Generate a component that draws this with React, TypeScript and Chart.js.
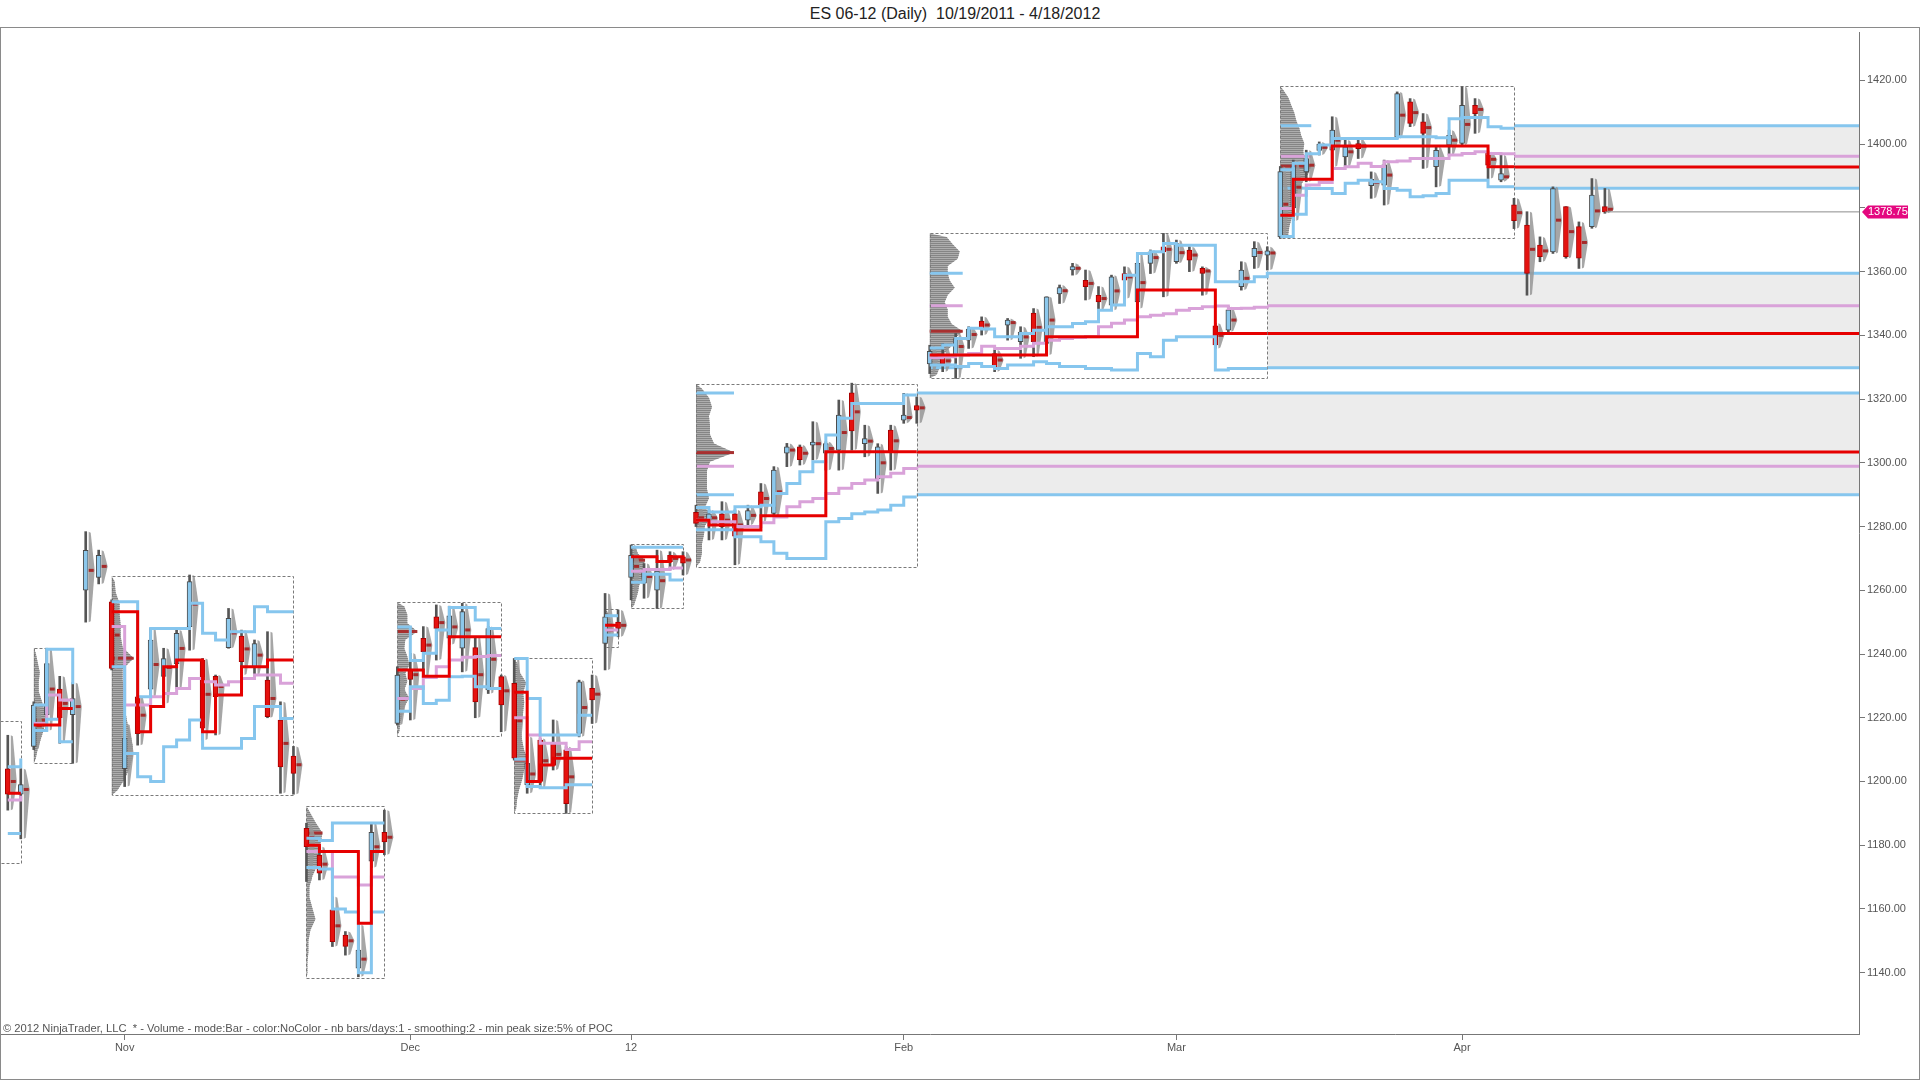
import React, { useEffect, useRef } from 'react';
import { Chart, registerables } from 'chart.js';

Chart.register(...registerables);

const TITLE = 'ES 06-12 (Daily)  10/19/2011 - 4/18/2012';
const FOOTER = '\u00a9 2012 NinjaTrader, LLC  * - Volume - mode:Bar - color:NoColor - nb bars/days:1 - smoothing:2 - min peak size:5% of POC';

// ---- daily OHLC (bar index 0 = 10/19/2011 ... 123 = 4/18/2012)
const opens = [
  1204, 1196, 1211, 1221, 1229, 1221, 1260, 1264, 1256.4, 1204,
  1226.6, 1229, 1233, 1237, 1248.6, 1238, 1233, 1242, 1245.6, 1236,
  1231.8, 1219.3, 1208, 1185.3, 1176.9, 1159.7, 1151.8, 1141.4, 1175, 1184,
  1218.2, 1235, 1244.9, 1251.7, 1245, 1241.8, 1242, 1228.7, 1232.9, 1230.8,
  1199, 1213, 1212, 1209.9, 1215.1, 1229.2, 1243.3, 1250, 1264, 1262.2,
  1260, 1271, 1270.5, 1284.5, 1281.5, 1284, 1284, 1282, 1290.9, 1284.1,
  1303, 1305, 1305.5, 1303, 1304, 1322, 1306, 1295, 1310.3, 1313.4,
  1318, 1331, 1333, 1334, 1338.5, 1344.5, 1334.3, 1343.2, 1338, 1347,
  1337.5, 1353, 1360.5, 1357.3, 1352.6, 1349.5, 1359.4, 1350.5, 1362.6, 1367.8,
  1363.1, 1366.8, 1361, 1343, 1341.6, 1355.3, 1364.7, 1365.2, 1370.9, 1380,
  1391.3, 1398, 1398.1, 1396, 1400.2, 1387, 1387.1, 1402.3, 1413.3, 1407,
  1392.9, 1399.7, 1400.2, 1412.2, 1397.1, 1388.7, 1381, 1374.6, 1368.3, 1366.2,
  1380.4, 1374.1, 1374.1, 1380.4,
];
const highs = [
  1214.5, 1204, 1225, 1241.8, 1233, 1231, 1278.4, 1272.6, 1257, 1218,
  1227, 1248, 1241.8, 1247.5, 1264.8, 1238.6, 1233.4, 1254.3, 1247.5, 1244.4,
  1247, 1225, 1211, 1186.9, 1179.5, 1163.8, 1152.9, 1155, 1187, 1191,
  1236, 1240.2, 1248.6, 1255.4, 1255, 1255.9, 1245.4, 1248.6, 1233.4, 1238.6,
  1214, 1213.5, 1219.3, 1210.9, 1231.8, 1233.4, 1259, 1253.8, 1274.2, 1268.4,
  1272.6, 1272.1, 1272.1, 1286.7, 1285.2, 1287.8, 1285.2, 1286.7, 1293.5, 1298.8,
  1306.1, 1305.6, 1312.9, 1306.6, 1319.7, 1325, 1311.8, 1306, 1311.8, 1321.8,
  1320.7, 1336.9, 1337.5, 1340.6, 1342.7, 1345.8, 1335.4, 1345.3, 1342.7, 1348.4,
  1352.1, 1355.8, 1362.6, 1360.5, 1355.3, 1358.9, 1361.5, 1365.7, 1366.8, 1372,
  1369.9, 1367.8, 1361.5, 1343.8, 1349, 1363.1, 1369.4, 1367.8, 1393, 1395,
  1398.1, 1400.7, 1408.6, 1401.3, 1401.8, 1391.3, 1395, 1416.4, 1414.3, 1409.6,
  1399.2, 1404.4, 1418, 1414.3, 1397.6, 1396.6, 1383, 1378.8, 1370.9, 1386.6,
  1380.4, 1375.6, 1389.2, 1386.1,
];
const lows = [
  1191, 1182, 1210, 1216, 1212, 1205.7, 1250, 1262, 1235, 1198.4,
  1211.4, 1226.6, 1224.5, 1229.2, 1241.2, 1213, 1214.6, 1241.8, 1233.4, 1233.4,
  1220, 1196.3, 1196, 1168.6, 1169.1, 1148.2, 1145.5, 1138.7, 1173, 1177,
  1217.7, 1219.3, 1232.4, 1238.1, 1243, 1234.4, 1220, 1227.6, 1215.6, 1206.7,
  1196.3, 1198, 1203.6, 1190, 1214, 1218.2, 1235, 1245.4, 1257, 1257.5,
  1254.3, 1266.4, 1264.8, 1280, 1275.8, 1275.8, 1268, 1280.5, 1281.5, 1283.1,
  1298.8, 1299.3, 1300.9, 1297.7, 1297.7, 1304, 1301.9, 1290.4, 1297.7, 1312.4,
  1312.4, 1328, 1328.6, 1326.5, 1335.9, 1340.1, 1328.6, 1338.5, 1332.8, 1333.3,
  1333.8, 1350, 1358.9, 1351.1, 1347.9, 1347.9, 1351.6, 1348.4, 1359.4, 1352.1,
  1362.6, 1360, 1352.6, 1335.9, 1341.1, 1354.2, 1361, 1360.5, 1370.4, 1376,
  1388.2, 1396.6, 1392.9, 1392.9, 1395.5, 1383, 1380.9, 1401.8, 1405.5, 1392.4,
  1386.6, 1396.6, 1399.7, 1403.4, 1389.2, 1388.2, 1373.5, 1352.6, 1363.1, 1365.7,
  1364.2, 1361, 1373.6, 1378.3,
];
const closes = [
  1196, 1199, 1224, 1237, 1220, 1226, 1272.5, 1271, 1235.5, 1213.5,
  1215, 1244.4, 1238.6, 1246.5, 1262.7, 1216.7, 1226.6, 1251.2, 1237.6, 1243.3,
  1220.3, 1204.6, 1202.5, 1179.5, 1171.2, 1149.7, 1148.2, 1147.1, 1184, 1181,
  1233.4, 1232, 1240.7, 1248, 1252, 1253.3, 1225, 1248, 1224, 1207.3,
  1205.7, 1200, 1205, 1193, 1231.3, 1225.6, 1251.7, 1248, 1271, 1266.4,
  1266, 1269, 1268.5, 1281, 1284, 1280, 1277, 1285, 1286.7, 1297.7,
  1305, 1301, 1306.5, 1306, 1315, 1310, 1307.6, 1305, 1303.5, 1315,
  1316.5, 1335, 1331, 1339, 1342, 1342, 1330.2, 1344.8, 1341, 1338,
  1352.1, 1355, 1361.6, 1355.3, 1350.5, 1358.4, 1357.3, 1362.6, 1366.2, 1366.2,
  1368.8, 1363.6, 1359.4, 1337, 1348, 1360.5, 1367.3, 1366.5, 1391.4, 1393,
  1395.5, 1400, 1404.4, 1399.2, 1398.6, 1389, 1393.5, 1415.9, 1406.5, 1403.4,
  1398.1, 1402.8, 1412.2, 1409.6, 1393.4, 1390.8, 1376, 1359.4, 1364.7, 1386.1,
  1364.7, 1364.2, 1384, 1378.75,
];

// ---- axis ticks
const xTickIdx = [9, 31, 48, 69, 90, 112];
const xTickLabels = ['Nov', 'Dec', '12', 'Feb', 'Mar', 'Apr'];
const yTicks = [1140, 1160, 1180, 1200, 1220, 1240, 1260, 1280, 1300, 1320, 1340, 1360, 1380, 1400, 1420];

// ---- composite profile boxes
const boxStart = [-1, 2, 8, 23, 30, 39, 46, 48, 53, 71, 98];
const boxEnd = [1, 5, 22, 29, 38, 45, 47, 52, 70, 97, 116];
const boxHigh = [1219, 1241.8, 1264.5, 1192.3, 1256.2, 1238.6, 1254, 1274.5, 1324.7, 1372, 1418.2];
const boxLow = [1174.5, 1205.7, 1195.6, 1138.2, 1214.4, 1190, 1242.3, 1254.3, 1267.4, 1326.5, 1370.4];

// composite volume profile rows (top -> bottom)
const boxProfiles = [
  [],
  [2, 4, 6, 5, 5, 8, 11, 12, 10, 7, 4, 2],
  [3, 4, 8, 8, 9, 9, 11, 22, 11, 11, 13, 14, 14, 16, 19, 21, 21, 18, 13, 6],
  [3, 9, 16, 14, 13, 11, 6, 3, 3, 6, 9, 4, 2, 2, 1, 1],
  [7, 10, 10, 20, 8, 7, 10, 12, 8, 10, 7, 12, 7, 5, 3, 2],
  [3, 6, 12, 9, 10, 9, 8, 7, 8, 10, 14, 10, 8, 5, 3, 2],
  [3, 5, 7, 6, 4, 2],
  [4, 7, 14, 12, 12, 10, 8, 7, 5, 3],
  [6, 13, 16, 13, 14, 14, 18, 38, 14, 11, 11, 11, 13, 9, 16, 9, 8, 6, 6, 4],
  [17, 23, 30, 28, 18, 18, 20, 25, 18, 15, 18, 18, 22, 33, 25, 22, 15, 12, 10, 7],
  [3, 8, 11, 14, 16, 19, 21, 24, 23, 24, 31, 28, 23, 18, 16, 14, 13, 11, 9, 8],
];

// developing value area high / low, POC and VWAP, one array per box
const vahByBox = [
  [1204.6, 1207.2],
  [1224, 1241.5, 1241.5, 1230.5],
  [1256.4, 1256.4, 1226.6, 1248, 1248, 1248, 1255.9, 1246.5, 1244.4, 1247, 1247, 1254.8, 1253.3, 1253.3, 1253.3],
  [1182.2, 1181.5, 1187, 1187, 1187, 1187, 1187],
  [1248.5, 1238, 1240.2, 1247.5, 1254.6, 1254.6, 1250.7, 1248, 1248],
  [1238.6, 1226, 1214.6, 1214.6, 1214.6, 1220.8, 1220.8],
  [1252, 1252],
  [1273.5, 1273.5, 1273.5, 1273.5, 1273.5],
  [1286, 1284.6, 1284.6, 1286.2, 1286.2, 1286.7, 1290.4, 1293.5, 1297.2, 1300.3, 1308.7, 1314, 1318.6, 1318.6, 1318.6, 1318.6, 1321.3, 1321.3],
  [1336, 1337, 1339, 1342.2, 1342, 1339.6, 1339.6, 1340.6, 1341.6, 1342.7, 1342.7, 1343.7, 1344.3, 1347.9, 1349.5, 1358.9, 1365.7, 1366.2, 1368.8, 1368.3, 1368.3, 1368.3, 1356.8, 1356.8, 1356.8, 1358.4, 1360],
  [1392, 1394, 1397, 1399.7, 1401.8, 1401.8, 1401.8, 1401.8, 1401.8, 1402.3, 1402.3, 1402.3, 1402, 1408, 1408.4, 1408.4, 1405.5, 1405, 1405],
];
const valByBox = [
  [1183.7, 1183.7],
  [1216, 1219.5, 1212.5, 1212.5],
  [1236, 1208.8, 1201.5, 1200, 1210.9, 1213, 1219.3, 1210.4, 1210.4, 1210.4, 1213.5, 1223.5, 1223.5, 1219.8, 1219.8],
  [1173, 1172.5, 1160, 1159, 1140, 1159, 1159],
  [1222, 1229.7, 1224.5, 1225.5, 1232.9, 1233, 1229.7, 1229.2, 1229.2],
  [1207, 1198.4, 1198, 1198, 1199, 1199, 1199],
  [1246, 1246],
  [1262.5, 1265, 1265, 1263.2, 1263.2],
  [1279, 1279, 1279, 1276.8, 1276.8, 1275.2, 1271.6, 1270, 1270, 1270, 1281.5, 1282.5, 1284, 1284.6, 1285.2, 1286.7, 1289.3, 1289.3],
  [1330.7, 1330.7, 1330.2, 1331.2, 1330.2, 1329.6, 1330.7, 1330.7, 1331.7, 1331.2, 1330.2, 1330.2, 1329.6, 1329.6, 1329.1, 1329.1, 1334.3, 1333.3, 1338.5, 1339.6, 1339.6, 1339.6, 1329.1, 1329.6, 1329.6, 1329.6, 1329.6],
  [1371, 1378, 1386.1, 1386.1, 1384.5, 1387.7, 1388.7, 1388.2, 1386.1, 1385.5, 1383.5, 1383.8, 1384.5, 1388.7, 1388.7, 1388.7, 1386.6, 1386.6, 1386.6],
];
const pocByBox = [
  [1196.3, 1196.3],
  [1217.7, 1217.7, 1222.9, 1222.9],
  [1253.3, 1253.3, 1215.6, 1223.5, 1236, 1238.1, 1238.1, 1215.6, 1227.1, 1227.1, 1236, 1236, 1238.1, 1238.1, 1238.1],
  [1180, 1178, 1178, 1178, 1155.5, 1178, 1178],
  [1235, 1235, 1233, 1233, 1245.4, 1245.4, 1245.4, 1245.4, 1245.4],
  [1228, 1200, 1205.2, 1207.3, 1207.3, 1207.3, 1207.3],
  [1249, 1249],
  [1270.5, 1270.5, 1269, 1270.5, 1269.5],
  [1282, 1280.5, 1280.5, 1278.9, 1278.9, 1283.4, 1283.4, 1283.4, 1283.4, 1283.4, 1303.5, 1303.5, 1303.5, 1303.5, 1303.5, 1303.5, 1303.5, 1303.5],
  [1333.8, 1333.8, 1333.8, 1333.8, 1333.8, 1333.8, 1333.8, 1333.8, 1333.8, 1339.6, 1339.6, 1339.6, 1339.6, 1339.6, 1339.6, 1339.6, 1354.2, 1354.2, 1354.2, 1354.2, 1354.2, 1354.2, 1340.6, 1340.6, 1340.6, 1340.6, 1340.6],
  [1377.7, 1389, 1389, 1389, 1399.4, 1399.4, 1399.4, 1399.4, 1399.4, 1399.4, 1399.4, 1399.4, 1399.4, 1399.4, 1399.4, 1399.4, 1392.9, 1392.9, 1392.9],
];
const vwapByBox = [
  [1194.2, 1195.5],
  [1218.2, 1227.1, 1225.6, 1225.6],
  [1248.6, 1224, 1224, 1226.6, 1227.6, 1229.2, 1232.3, 1231.3, 1230.3, 1231.3, 1232.3, 1233.4, 1233.4, 1230.8, 1230.8],
  [1178, 1178, 1170, 1170, 1167.5, 1170, 1170],
  [1226, 1229.2, 1232.6, 1236, 1238.1, 1239, 1239.2, 1239.5, 1239.5],
  [1220, 1214.6, 1212, 1212, 1210, 1212.5, 1212.5],
  [1247.5, 1247.5],
  [1266, 1266.5, 1266.5, 1267, 1267],
  [1282, 1281.5, 1281.5, 1280, 1280, 1281.2, 1283, 1286.2, 1287.8, 1288.8, 1290.4, 1292, 1293.5, 1294.6, 1295.6, 1296.7, 1298.2, 1298.5],
  [1333, 1333.3, 1333.8, 1334.3, 1336.6, 1335.9, 1335.9, 1336.6, 1337.5, 1338.5, 1339, 1339.3, 1339.6, 1342.7, 1343.8, 1344.8, 1345.8, 1346.3, 1346.8, 1347.9, 1348.4, 1349, 1349.2, 1348.4, 1348.5, 1348.8, 1349.2],
  [1379.8, 1384, 1387.2, 1388, 1392.4, 1392.9, 1394, 1393, 1394.5, 1394.7, 1395.5, 1395.5, 1395.5, 1396.6, 1397.1, 1397.6, 1397.1, 1397, 1396.5],
];

// final levels of the last three composites, extended to the right
const extBoxes = [8, 9, 10];
const extVah = [1321.9, 1359.5, 1405.8];
const extPoc = [1303.4, 1340.6, 1392.8];
const extVwap = [1298.9, 1349.3, 1396.2];
const extVal = [1290, 1329.8, 1386.2];

// ---- styling constants
const X_MIN = -0.524;
const X_MAX = 142.57;
const Y_MIN = 1120.75;
const Y_MAX = 1435.2;
const BLUE = '#86C6EE';
const RED = '#E60000';
const PINK = '#D9A2D9';
const SHADE = '#ECECEC';
const UP_FILL = '#8CC8EC';
const DOWN_FILL = '#E5120F';
const WICK = '#555555';
const FONT = '"Liberation Sans", Arial, sans-serif';
const PROFILE_SCALE = 1;
const MINI_W = 6;

function stepData(byBox: number[][]) {
  const pts: { x: number; y: number | null }[] = [];
  byBox.forEach((vals, b) => {
    const s = Math.max(0, boxStart[b]);
    vals.forEach((v, k) => pts.push({ x: s + k, y: v }));
    pts.push({ x: boxEnd[b] + 0.5, y: null });
  });
  return pts;
}

export default function App() {
  const ref = useRef<HTMLCanvasElement | null>(null);

  useEffect(() => {
    const canvas = ref.current;
    if (!canvas) return;
    const N = opens.length;
    const idx = Array.from({ length: N }, (_, i) => i);
    const isUp = (i: number) => closes[i] >= opens[i];
    const lastIdx = N - 1;
    const lastPrice = closes[lastIdx];

    const datasets: any[] = [];
    extBoxes.forEach((b, k) => {
      const seg = (v: number) => [
        { x: boxEnd[b], y: v },
        { x: X_MAX, y: v },
      ];
      const base = datasets.length;
      const common = { type: 'line', pointRadius: 0, borderWidth: 3, tension: 0 };
      datasets.push({ ...common, data: seg(extVah[k]), borderColor: BLUE, backgroundColor: SHADE, fill: base + 3, order: 35 });
      datasets.push({ ...common, data: seg(extPoc[k]), borderColor: RED, fill: false, order: 30 });
      datasets.push({ ...common, data: seg(extVwap[k]), borderColor: PINK, fill: false, order: 31 });
      datasets.push({ ...common, data: seg(extVal[k]), borderColor: BLUE, fill: false, order: 32 });
    });
    const WICK_INDEX = datasets.length;
    datasets.push({
      type: 'bar',
      data: idx.map((i) => ({ x: i, y: [lows[i], highs[i]] })),
      backgroundColor: WICK,
      barThickness: 2,
      grouped: false,
      order: 20,
    });
    datasets.push({
      type: 'bar',
      data: idx.map((i) => ({ x: i, y: [opens[i], closes[i]] })),
      backgroundColor: idx.map((i) => (isUp(i) ? UP_FILL : DOWN_FILL)),
      borderColor: idx.map((i) => (isUp(i) ? '#4A4A4A' : '#A80000')),
      borderWidth: 1,
      borderSkipped: false,
      barThickness: 5,
      grouped: false,
      order: 19,
    });
    const stepCommon = { type: 'line', stepped: true, pointRadius: 0, borderWidth: 3, fill: false, spanGaps: false };
    datasets.push({ ...stepCommon, data: stepData(vwapByBox), borderColor: PINK, order: 8 });
    datasets.push({ ...stepCommon, data: stepData(valByBox), borderColor: BLUE, order: 7 });
    datasets.push({ ...stepCommon, data: stepData(vahByBox), borderColor: BLUE, order: 6 });
    datasets.push({ ...stepCommon, data: stepData(pocByBox), borderColor: RED, order: 5 });
    datasets.push({
      type: 'line',
      data: [
        { x: lastIdx, y: lastPrice },
        { x: X_MAX, y: lastPrice },
      ],
      borderColor: '#8C8C8C',
      borderWidth: 1,
      pointRadius: 0,
      fill: false,
      order: 4,
    });

    const overlays = {
      id: 'overlays',
      beforeDatasetDraw(chart: any, args: any) {
        if (args.index !== WICK_INDEX) return;
        const { ctx, chartArea } = chart;
        const xs = chart.scales.x;
        const ys = chart.scales.y;
        ctx.save();
        ctx.beginPath();
        ctx.rect(chartArea.left, chartArea.top, chartArea.right - chartArea.left, chartArea.bottom - chartArea.top);
        ctx.clip();

        // composite profiles
        boxProfiles.forEach((prof, b) => {
          if (!prof.length) return;
          const x0 = xs.getPixelForValue(boxStart[b]);
          const step = (boxHigh[b] - boxLow[b]) / prof.length;
          const yTop = ys.getPixelForValue(boxHigh[b]);
          const yBot = ys.getPixelForValue(boxLow[b]);
          const maxV = Math.max(...prof);
          ctx.beginPath();
          ctx.moveTo(x0, yTop);
          prof.forEach((v, k) => ctx.lineTo(x0 + v * PROFILE_SCALE, ys.getPixelForValue(boxHigh[b] - (k + 0.5) * step)));
          ctx.lineTo(x0, yBot);
          ctx.closePath();
          ctx.fillStyle = '#ADADAD';
          ctx.fill();
          ctx.save();
          ctx.clip();
          ctx.strokeStyle = '#858585';
          ctx.lineWidth = 1;
          ctx.beginPath();
          for (let yy = Math.round(yTop) + 0.5; yy < yBot; yy += 2) {
            ctx.moveTo(x0, yy);
            ctx.lineTo(x0 + maxV * PROFILE_SCALE + 1, yy);
          }
          ctx.stroke();
          ctx.restore();
          const pk = prof.indexOf(maxV);
          const yp = ys.getPixelForValue(boxHigh[b] - (pk + 0.5) * step);
          ctx.fillStyle = '#A83030';
          ctx.fillRect(x0, yp - 1.5, maxV * PROFILE_SCALE, 3);
        });

        // final-level marks on the extended composites' profiles
        extBoxes.forEach((b, k) => {
          const x0 = xs.getPixelForValue(boxStart[b]);
          const w = Math.max(...boxProfiles[b]) * PROFILE_SCALE;
          const mark = (v: number, c: string) => {
            ctx.strokeStyle = c;
            ctx.lineWidth = 3;
            ctx.beginPath();
            ctx.moveTo(x0, ys.getPixelForValue(v));
            ctx.lineTo(x0 + w, ys.getPixelForValue(v));
            ctx.stroke();
          };
          mark(extVah[k], BLUE);
          mark(extVal[k], BLUE);
          mark(extVwap[k], PINK);
        });

        // per-bar mini profiles
        idx.forEach((i) => {
          const xc = xs.getPixelForValue(i) + 3;
          const yH = ys.getPixelForValue(highs[i]);
          const yL = ys.getPixelForValue(lows[i]);
          const yP = ys.getPixelForValue((opens[i] + closes[i]) / 2);
          ctx.beginPath();
          ctx.moveTo(xc, yH);
          ctx.lineTo(xc + 2, yH + 1);
          ctx.lineTo(xc + MINI_W, yP);
          ctx.lineTo(xc + 2, yL - 1);
          ctx.lineTo(xc, yL);
          ctx.closePath();
          ctx.fillStyle = 'rgba(150,150,150,0.85)';
          ctx.fill();
          ctx.fillStyle = '#A52A2A';
          ctx.fillRect(xc, yP - 1.5, MINI_W - 1, 3);
        });

        // dashed composite boxes
        ctx.setLineDash([3, 2]);
        ctx.strokeStyle = '#7A7A7A';
        ctx.lineWidth = 1;
        boxStart.forEach((s, b) => {
          const x0 = Math.round(xs.getPixelForValue(s)) + 0.5;
          const x1 = Math.round(xs.getPixelForValue(boxEnd[b])) + 0.5;
          const y0 = Math.round(ys.getPixelForValue(boxHigh[b])) + 0.5;
          const y1 = Math.round(ys.getPixelForValue(boxLow[b])) + 0.5;
          ctx.strokeRect(x0, y0, x1 - x0, y1 - y0);
        });
        ctx.setLineDash([]);
        ctx.restore();
      },
      afterDraw(chart: any) {
        const { ctx, chartArea } = chart;
        const yy = chart.scales.y.getPixelForValue(lastPrice);
        const x0 = chartArea.right + 3;
        ctx.save();
        ctx.fillStyle = '#E4087F';
        ctx.beginPath();
        ctx.moveTo(x0, yy);
        ctx.lineTo(x0 + 6, yy - 6.5);
        ctx.lineTo(x0 + 46, yy - 6.5);
        ctx.lineTo(x0 + 46, yy + 6.5);
        ctx.lineTo(x0 + 6, yy + 6.5);
        ctx.closePath();
        ctx.fill();
        ctx.fillStyle = '#FFFFFF';
        ctx.font = `11px ${FONT}`;
        ctx.textAlign = 'left';
        ctx.textBaseline = 'middle';
        ctx.fillText(lastPrice.toFixed(2), x0 + 6, yy + 0.5);
        ctx.restore();
      },
    };

    const chart = new Chart(canvas, {
      type: 'bar',
      data: { datasets },
      options: {
        animation: false,
        responsive: false,
        devicePixelRatio: 1,
        events: [],
        layout: { padding: { top: 4, left: 0, right: 0, bottom: 0 } },
        plugins: { legend: { display: false }, tooltip: { enabled: false }, title: { display: false } },
        scales: {
          x: {
            type: 'linear',
            min: X_MIN,
            max: X_MAX,
            offset: false,
            grid: { offset: false, drawOnChartArea: false, drawTicks: true, tickLength: 6, color: '#777777' },
            border: { display: true, color: '#777777' },
            ticks: {
              autoSkip: false,
              maxRotation: 0,
              color: '#555555',
              padding: 1,
              font: { size: 11, family: FONT },
              callback: (v: any) => {
                const k = xTickIdx.indexOf(Number(v));
                return k >= 0 ? xTickLabels[k] : '';
              },
            },
            afterBuildTicks: (axis: any) => {
              axis.ticks = xTickIdx.map((v) => ({ value: v }));
            },
            afterFit: (axis: any) => {
              axis.height = 44;
              axis.paddingLeft = 0;
              axis.paddingRight = 0;
            },
          },
          y: {
            type: 'linear',
            position: 'right',
            min: Y_MIN,
            max: Y_MAX,
            grid: { offset: false, drawOnChartArea: false, drawTicks: true, tickLength: 6, color: '#777777' },
            border: { display: true, color: '#777777' },
            ticks: {
              color: '#555555',
              padding: 2,
              font: { size: 11, family: FONT },
              // the last-price marker takes the place of a colliding tick label
              callback: (v: any) => (Math.abs(Number(v) - lastPrice) < 4 ? '' : Number(v).toFixed(2)),
            },
            afterBuildTicks: (axis: any) => {
              axis.ticks = yTicks.map((v) => ({ value: v }));
            },
            afterFit: (axis: any) => {
              axis.width = 60;
              axis.paddingTop = 0;
              axis.paddingBottom = 0;
            },
          },
        },
      } as any,
      plugins: [overlays],
    } as any);

    return () => chart.destroy();
  }, []);

  return (
    <div style={{ position: 'fixed', left: 0, top: 0, width: 1920, height: 1080, background: '#FFFFFF', overflow: 'hidden' }}>
      <div
        style={{
          position: 'absolute',
          left: 0,
          top: 0,
          width: 1910,
          height: 27,
          lineHeight: '27px',
          textAlign: 'center',
          fontFamily: FONT,
          fontSize: 16,
          color: '#222222',
          whiteSpace: 'pre',
        }}
      >
        {TITLE}
      </div>
      <div
        style={{
          position: 'absolute',
          left: 0,
          top: 27,
          width: 1920,
          height: 1053,
          boxSizing: 'border-box',
          border: '1px solid #8A8A8A',
        }}
      >
        <canvas ref={ref} width={1918} height={1050} style={{ display: 'block', width: 1918, height: 1050 }} />
        <div
          style={{
            position: 'absolute',
            left: 2,
            top: 994,
            fontFamily: FONT,
            fontSize: 11.2,
            lineHeight: '13px',
            color: '#555555',
            whiteSpace: 'pre',
          }}
        >
          {FOOTER}
        </div>
      </div>
    </div>
  );
}
